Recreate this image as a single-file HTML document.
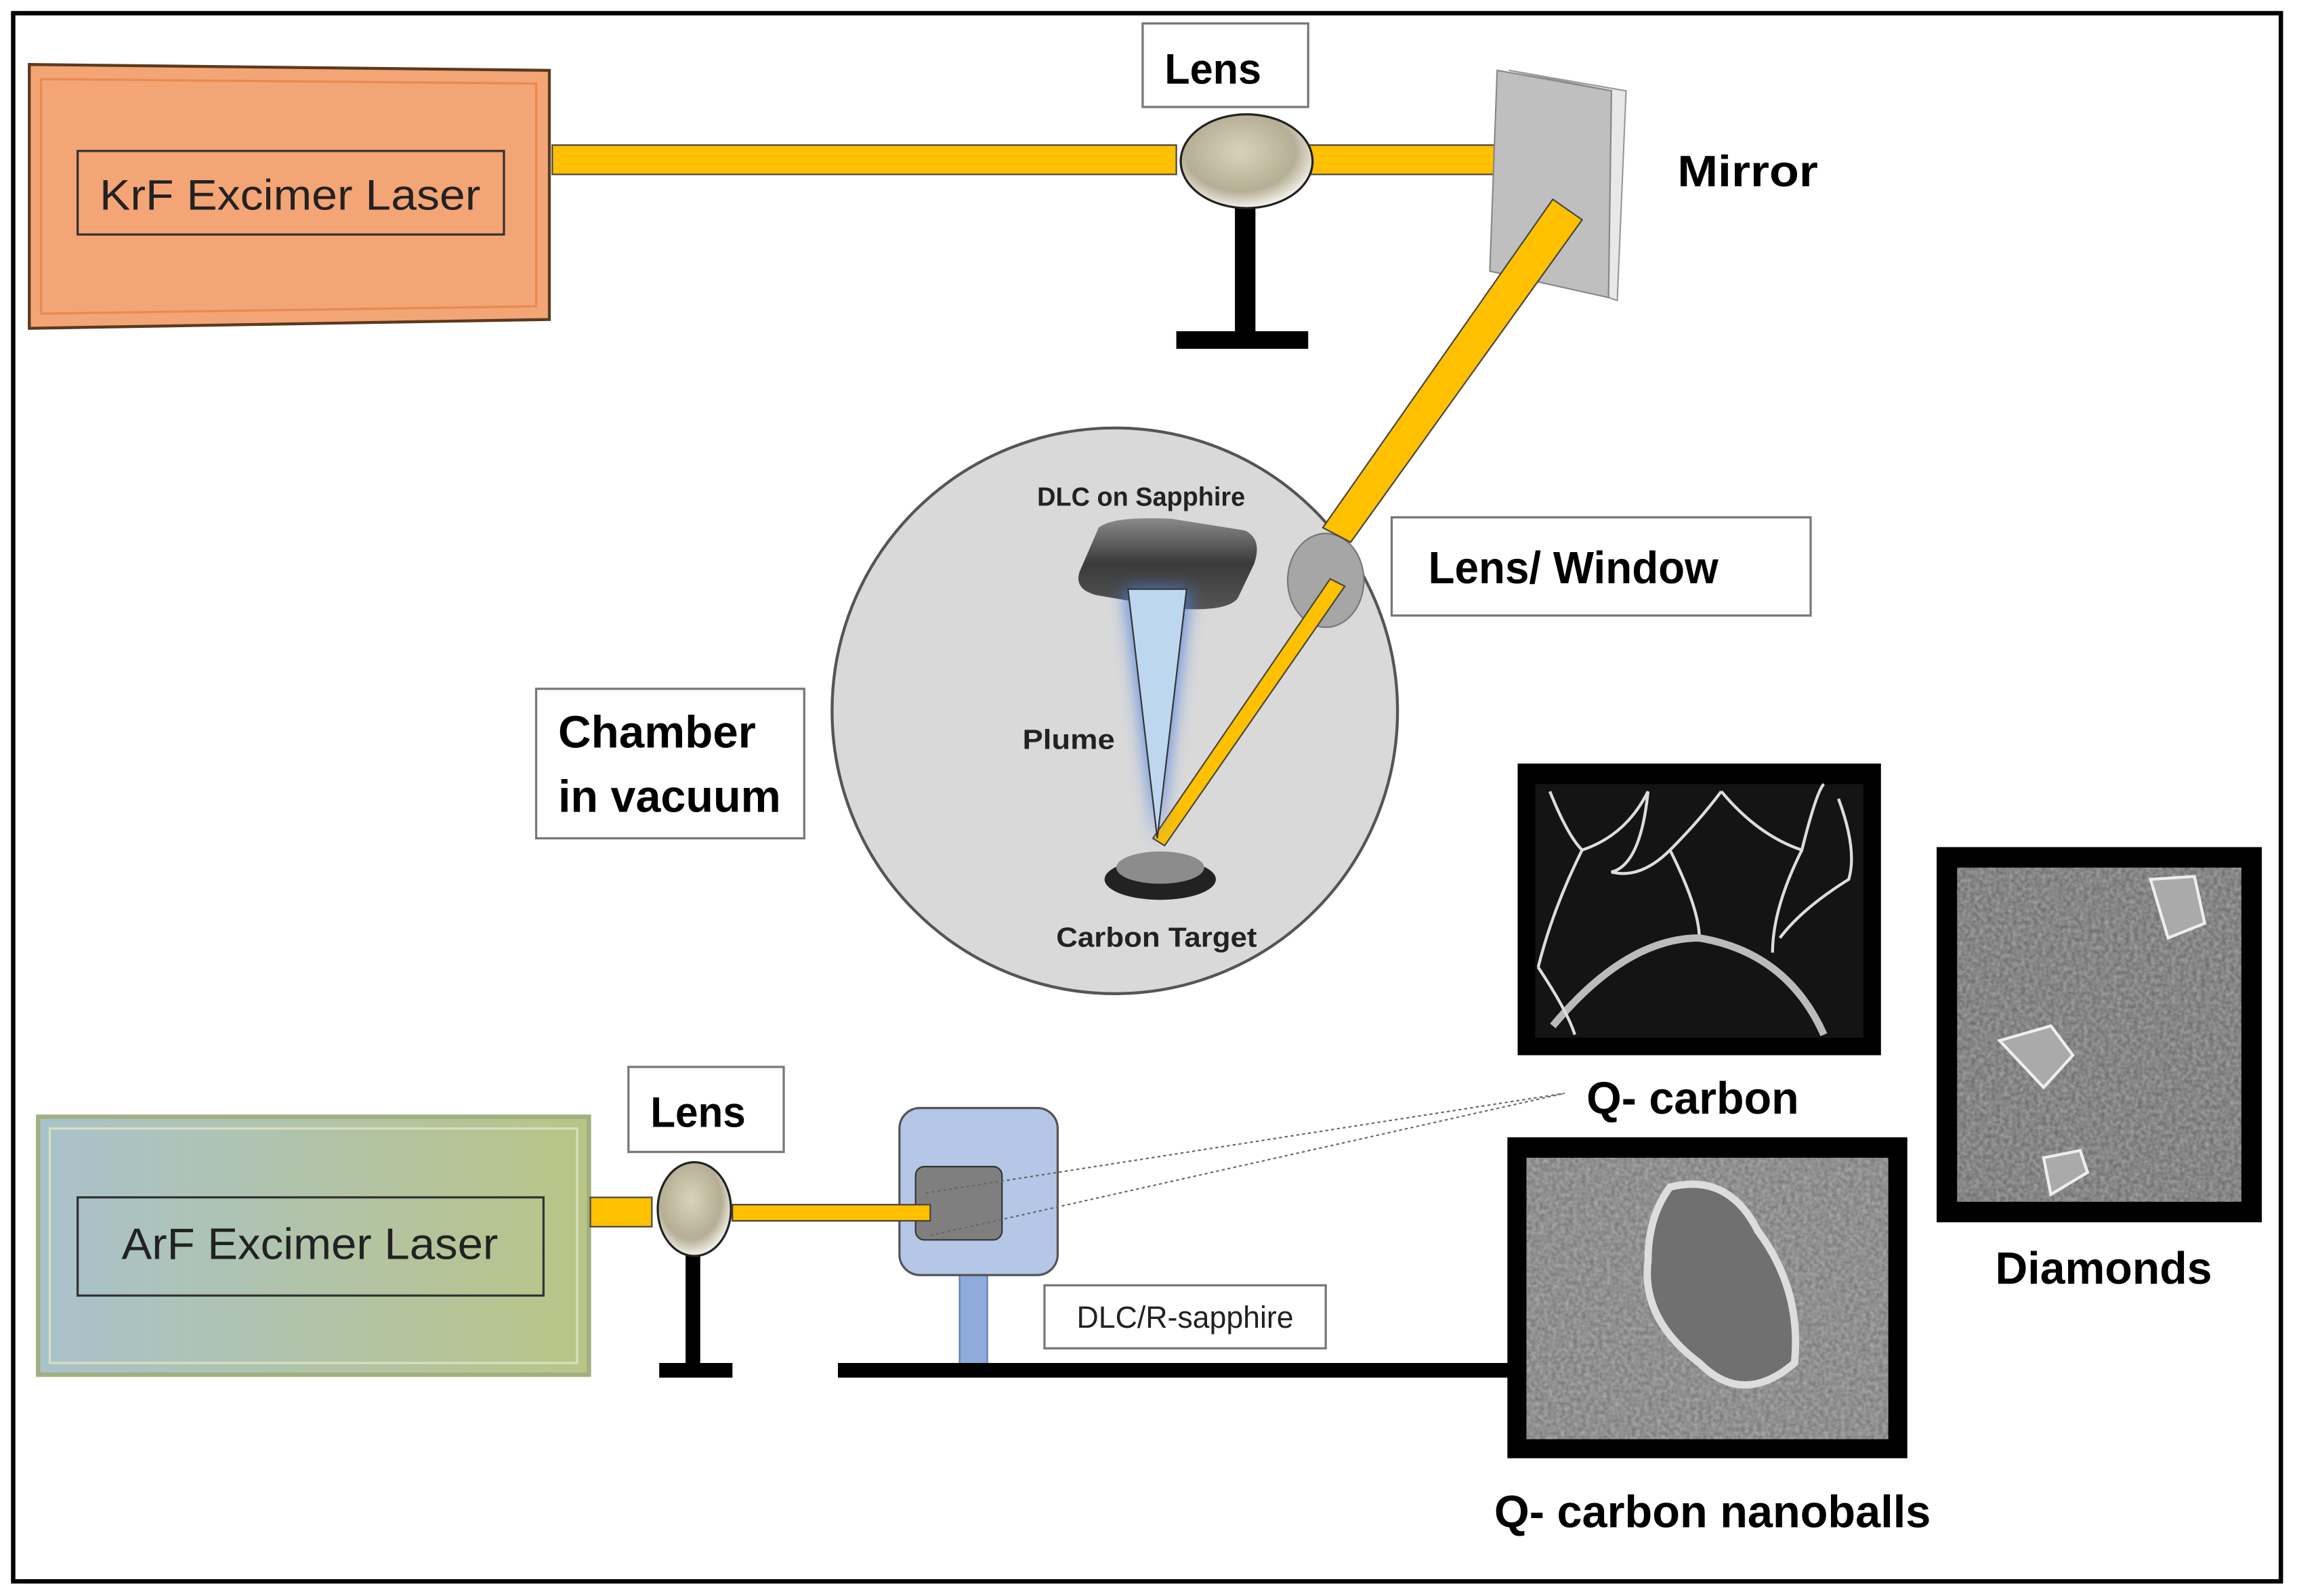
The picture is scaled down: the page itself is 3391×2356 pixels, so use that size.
<!DOCTYPE html>
<html><head><meta charset="utf-8"><style>html,body{margin:0;padding:0;background:#fff}svg{display:block}</style></head>
<body>
<svg width="3391" height="2356" viewBox="0 0 1568 1089" preserveAspectRatio="none" xmlns="http://www.w3.org/2000/svg" font-family="'Liberation Sans Narrow','Liberation Sans',sans-serif">
<defs>
<linearGradient id="arf" x1="0" x2="1"><stop offset="0" stop-color="#a9c2cc"/><stop offset="1" stop-color="#b9c586"/></linearGradient>
<radialGradient id="lens" cx="0.45" cy="0.4" r="0.6"><stop offset="0" stop-color="#d8d3bb"/><stop offset="0.7" stop-color="#b5ae95"/><stop offset="1" stop-color="#f4f2ea"/></radialGradient>
<linearGradient id="sub" x1="0" y1="0" x2="0" y2="1"><stop offset="0" stop-color="#8a8a8a"/><stop offset="0.5" stop-color="#3a3a3a"/><stop offset="1" stop-color="#555"/></linearGradient>
<filter id="glow" x="-1" y="-0.2" width="3" height="1.4"><feGaussianBlur stdDeviation="6"/></filter>
<filter id="noise" x="0" y="0" width="1" height="1"><feTurbulence type="fractalNoise" baseFrequency="0.35" numOctaves="2" seed="3"/><feColorMatrix type="matrix" values="0 0 0 0 0.55  0 0 0 0 0.55  0 0 0 0 0.55  1.2 0 0 0 -0.2"/><feComposite in2="SourceGraphic" operator="in"/></filter>
</defs>
<rect x="0" y="0" width="1568" height="1089" fill="#fff"/>
<rect x="9" y="9" width="1548" height="1070" fill="none" stroke="#000" stroke-width="3"/>

<polygon points="20,44 375,48 375,218 20,224" fill="#f4a575" stroke="#5a3a20" stroke-width="2"/>
<polygon points="28,54 366,57 366,209 28,214" fill="none" stroke="#e88a50" stroke-width="1.5"/>
<rect x="53" y="103" width="291" height="57" fill="none" stroke="#333" stroke-width="1.5"/>
<text x="68" y="143" font-size="29" textLength="260" lengthAdjust="spacingAndGlyphs" fill="#222">KrF Excimer Laser</text>

<rect x="377" y="99" width="426" height="20" fill="#ffc000" stroke="#444" stroke-width="1"/>
<rect x="893" y="99" width="127" height="20" fill="#ffc000" stroke="#444" stroke-width="1"/>
<rect x="843" y="140" width="14" height="88" fill="#000"/>
<rect x="803" y="226" width="90" height="12" fill="#000"/>
<ellipse cx="851" cy="110" rx="45" ry="32" fill="url(#lens)" stroke="#222" stroke-width="1.5"/>
<rect x="780" y="16" width="113" height="57" fill="#fff" stroke="#777" stroke-width="1.5"/>
<text x="795" y="57" font-size="29" font-weight="bold" textLength="66" lengthAdjust="spacingAndGlyphs">Lens</text>

<polygon points="1030,48 1110,62 1104,205 1098,203 1100,62" fill="#e8e8e8" stroke="#999"/>
<polygon points="1022,48 1100,62 1098,203 1017,185" fill="#bfbfbf" stroke="#888"/>
<text x="1145" y="127" font-size="30" font-weight="bold" textLength="96" lengthAdjust="spacingAndGlyphs">Mirror</text>

<ellipse cx="761" cy="485" rx="193" ry="193" fill="#d9d9d9" stroke="#555" stroke-width="2"/>
<ellipse cx="905" cy="396" rx="26" ry="32" fill="#a6a6a6" stroke="#777"/>
<polygon points="1060,136 1080,150 922,370 903,360" fill="#ffc000" stroke="#444" stroke-width="1"/>
<polygon points="908,395 918,400 795,577 787,572" fill="#ffc000" stroke="#444" stroke-width="1"/>
<path d="M750,360 Q760,352 800,354 L850,362 Q862,368 856,385 L845,408 Q838,418 800,415 L748,406 Q733,402 737,390 Z" fill="url(#sub)"/>
<polygon points="768,402 812,402 790,575" fill="#4a7fe0" filter="url(#glow)" opacity="0.9"/>
<polygon points="770,402 810,402 790,572" fill="#bdd7ee" stroke="#333" stroke-width="1"/>
<ellipse cx="792" cy="600" rx="38" ry="14" fill="#222"/>
<ellipse cx="792" cy="592" rx="30" ry="11" fill="#8c8c8c"/>
<text x="708" y="345" font-size="18" font-weight="bold" textLength="142" lengthAdjust="spacingAndGlyphs" fill="#222">DLC on Sapphire</text>
<text x="698" y="511" font-size="19" font-weight="bold" textLength="63" lengthAdjust="spacingAndGlyphs" fill="#222">Plume</text>
<text x="721" y="646" font-size="19" font-weight="bold" textLength="137" lengthAdjust="spacingAndGlyphs" fill="#222">Carbon Target</text>

<rect x="950" y="353" width="286" height="67" fill="#fff" stroke="#777" stroke-width="1.5"/>
<text x="975" y="398" font-size="31" font-weight="bold" textLength="198" lengthAdjust="spacingAndGlyphs">Lens/ Window</text>
<rect x="366" y="470" width="183" height="102" fill="#fff" stroke="#777" stroke-width="1.5"/>
<text x="381" y="510" font-size="31" font-weight="bold" textLength="135" lengthAdjust="spacingAndGlyphs">Chamber</text>
<text x="381" y="554" font-size="31" font-weight="bold" textLength="152" lengthAdjust="spacingAndGlyphs">in vacuum</text>

<rect x="1036" y="521" width="248" height="199" fill="#000"/>
<rect x="1048" y="535" width="224" height="173" fill="#141414"/>
<g stroke="#ddd" stroke-width="2" fill="none">
<path d="M1058,540 Q1070,570 1080,580 Q1060,620 1050,660"/>
<path d="M1080,580 Q1110,570 1125,540"/>
<path d="M1125,540 Q1120,590 1100,595 Q1120,600 1140,580 Q1160,560 1175,540"/>
<path d="M1140,580 Q1160,620 1160,640"/>
<path d="M1175,540 Q1200,570 1230,580 Q1240,540 1245,535"/>
<path d="M1230,580 Q1210,620 1210,650"/>
<path d="M1255,545 Q1268,580 1262,600 Q1230,620 1215,640"/>
<path d="M1060,700 Q1110,640 1160,640 Q1220,650 1245,706" stroke-width="5" stroke="#bbb"/>
<path d="M1050,660 Q1070,690 1075,706"/>
</g>
<text x="1083" y="760" font-size="31" font-weight="bold" textLength="145" lengthAdjust="spacingAndGlyphs">Q- carbon</text>

<rect x="1322" y="578" width="222" height="256" fill="#000"/>
<rect x="1336" y="592" width="194" height="228" fill="#6e6e6e"/>
<rect x="1336" y="592" width="194" height="228" fill="#fff" filter="url(#noise)" opacity="0.7"/>
<g fill="#aaa" stroke="#eee" stroke-width="2">
<polygon points="1468,600 1498,598 1505,630 1480,640"/>
<polygon points="1365,710 1400,700 1415,720 1395,742"/>
<polygon points="1395,790 1420,785 1425,800 1400,815"/>
</g>
<text x="1362" y="876" font-size="31" font-weight="bold" textLength="148" lengthAdjust="spacingAndGlyphs">Diamonds</text>

<rect x="1029" y="776" width="273" height="219" fill="#000"/>
<rect x="1042" y="790" width="247" height="192" fill="#7a7a7a"/>
<rect x="1042" y="790" width="247" height="192" fill="#fff" filter="url(#noise)" opacity="0.75"/>
<path d="M1140,810 Q1180,800 1200,840 Q1230,880 1225,930 Q1190,960 1160,930 Q1120,900 1125,860 Q1125,830 1140,810 Z" fill="#707070" stroke="#ddd" stroke-width="5"/>
<text x="1020" y="1042" font-size="31" font-weight="bold" textLength="298" lengthAdjust="spacingAndGlyphs">Q- carbon nanoballs</text>

<rect x="26" y="762" width="376" height="176" fill="url(#arf)" stroke="#a0b080" stroke-width="3"/>
<rect x="34" y="770" width="360" height="160" fill="none" stroke="#d8e0c0" stroke-width="1.5"/>
<rect x="53" y="817" width="318" height="67" fill="none" stroke="#333" stroke-width="1.5"/>
<text x="83" y="859" font-size="30" textLength="257" lengthAdjust="spacingAndGlyphs" fill="#222">ArF Excimer Laser</text>

<rect x="403" y="817" width="42" height="20" fill="#ffc000" stroke="#444"/>
<rect x="468" y="852" width="10" height="80" fill="#000"/>
<rect x="450" y="930" width="50" height="10" fill="#000"/>
<rect x="500" y="822" width="135" height="11" fill="#ffc000" stroke="#444"/>
<ellipse cx="474" cy="825" rx="25" ry="32" fill="url(#lens)" stroke="#222" stroke-width="1.5"/>
<rect x="429" y="728" width="106" height="58" fill="#fff" stroke="#777" stroke-width="1.5"/>
<text x="444" y="769" font-size="29" font-weight="bold" textLength="65" lengthAdjust="spacingAndGlyphs">Lens</text>

<rect x="655" y="868" width="19" height="64" fill="#8faadc" stroke="#6080b0"/>
<rect x="614" y="756" width="108" height="114" rx="14" fill="#b4c7e7" stroke="#555" stroke-width="1.5"/>
<rect x="625" y="796" width="59" height="50" rx="6" fill="#7f7f7f" stroke="#333"/>
<rect x="500" y="822" width="135" height="11" fill="#ffc000" stroke="#444"/>
<rect x="572" y="930" width="458" height="10" fill="#000"/>
<g stroke="#666" stroke-width="1" stroke-dasharray="2,2">
<line x1="632" y1="814" x2="1068" y2="746"/>
<line x1="635" y1="843" x2="1068" y2="746"/>
</g>
<rect x="713" y="877" width="192" height="43" fill="#fff" stroke="#777" stroke-width="1.5"/>
<text x="735" y="906" font-size="21" textLength="148" lengthAdjust="spacingAndGlyphs" fill="#222">DLC/R-sapphire</text>
</svg>
</body></html>
